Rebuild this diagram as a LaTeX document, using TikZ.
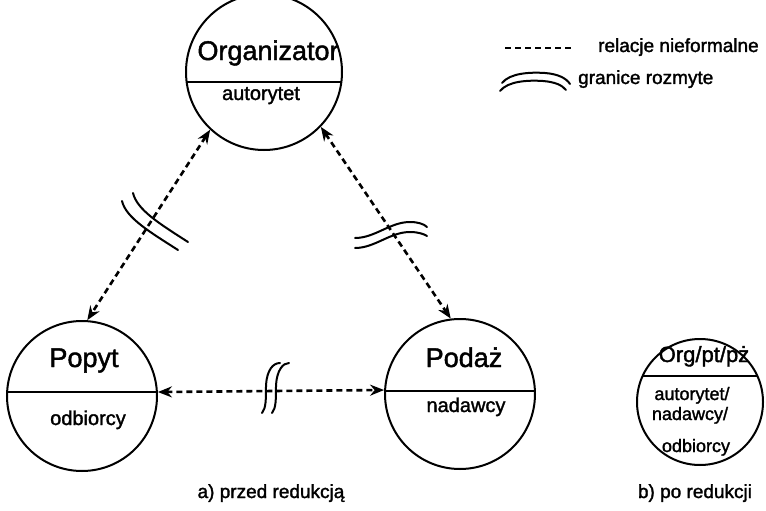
\documentclass[tikz,border=0pt]{standalone}
\usepackage{fontspec}
\setmainfont{Liberation Sans}[FakeBold=1.6]
\usetikzlibrary{arrows.meta}
\begin{document}
\begin{tikzpicture}[x=1pt,y=-1pt,
  circ/.style={circle, draw, line width=2pt, inner sep=0pt, minimum size=#1},
  divider/.style={path picture={\draw[line width=1.3pt] ([yshift=#1]path picture bounding box.west) -- ([yshift=#1]path picture bounding box.east);}},
  conn/.style={line width=2.6pt, dash pattern=on 6pt off 4pt, {Stealth[length=14pt,width=11pt]}-{Stealth[length=14pt,width=11pt]}},
  brk/.style={line width=2pt, line cap=round},
  lbl/.style={inner sep=0pt, anchor=base},
  big/.style={font=\fontsize{27}{30}\selectfont},
  small/.style={font=\fontsize{20}{22}\selectfont},
  tiny/.style={font=\fontsize{18}{20}\selectfont},
  leg/.style={font=\fontsize{19}{21}\selectfont},
]
\useasboundingbox (0,0) rectangle (766,511);

% circles
\node[circ=156pt, divider=-10pt] (org) at (264,72) {};
\node[circ=150pt, divider=4pt] (pop) at (82,396) {};
\node[circ=150pt, divider=3pt] (pod) at (460,394) {};
\node[circ=126pt, divider=26pt] (red) at (700,402) {};

% circle texts
\node[lbl, big] (torg) at (268,60) {Organizator};
\node[lbl, small] (taut) at (261,100) {autorytet};
\node[lbl, big] (tpop) at (84,367) {Popyt};
\node[lbl, small] (todb) at (88,425) {odbiorcy};
\node[lbl, big] (tpod) at (464,367) {Podaż};
\node[lbl, small] (tnad) at (466,412) {nadawcy};
\node[lbl, font=\fontsize{22}{25}\selectfont] (tred) at (704,362) {Org/pt/pż};
\node[lbl, tiny] (tr1) at (692,400) {autorytet/};
\node[lbl, tiny] (tr2) at (690,420) {nadawcy/};
\node[lbl, tiny] (tr3) at (696,452) {odbiorcy};

% connectors
\draw[conn] (org.227) -- (pop.86);
\draw[conn] (org.316) -- (pod.97);
\draw[conn] (pop.3) -- (pod.177);

% break marks
\draw[brk] (122,201) .. controls (126,218) and (150,232) .. (178,250);
\draw[brk] (133,193) .. controls (137,210) and (160,224) .. (188,242);
\draw[brk] (355,238) .. controls (375,238) and (390,222) .. (410,222) .. controls (418,222) and (424,224) .. (427,227);
\draw[brk] (355,248) .. controls (375,248) and (390,232) .. (410,232) .. controls (418,232) and (424,234) .. (427,236);
\draw[brk] (262,413) .. controls (266,408) and (266,400) .. (266,385) .. controls (267,370) and (273,363) .. (280,363);
\draw[brk] (272,413) .. controls (276,408) and (276,400) .. (276,385) .. controls (277,370) and (283,363) .. (289,363);

% legend
\coordinate (l1a) at (505,48);
\coordinate (l1b) at (573,48);
\draw[line width=2.6pt, dash pattern=on 6pt off 4pt] (l1a) -- (l1b);
\node[lbl, leg, anchor=base west] (tl1) at (598,52) {relacje nieformalne};
\draw[brk] (502,83) .. controls (510,73) and (530,72) .. (545,73) .. controls (558,74) and (566,78) .. (570,84);
\draw[brk] (500,91) .. controls (508,81) and (528,80) .. (543,81) .. controls (555,82) and (562,85) .. (566,90);
\node[lbl, leg, anchor=base west] (tl2) at (578,84) {granice rozmyte};

% captions
\node[lbl, leg] (capa) at (271,498) {a) przed redukcją};
\node[lbl, leg] (capb) at (695,498) {b) po redukcji};
\end{tikzpicture}
\end{document}
